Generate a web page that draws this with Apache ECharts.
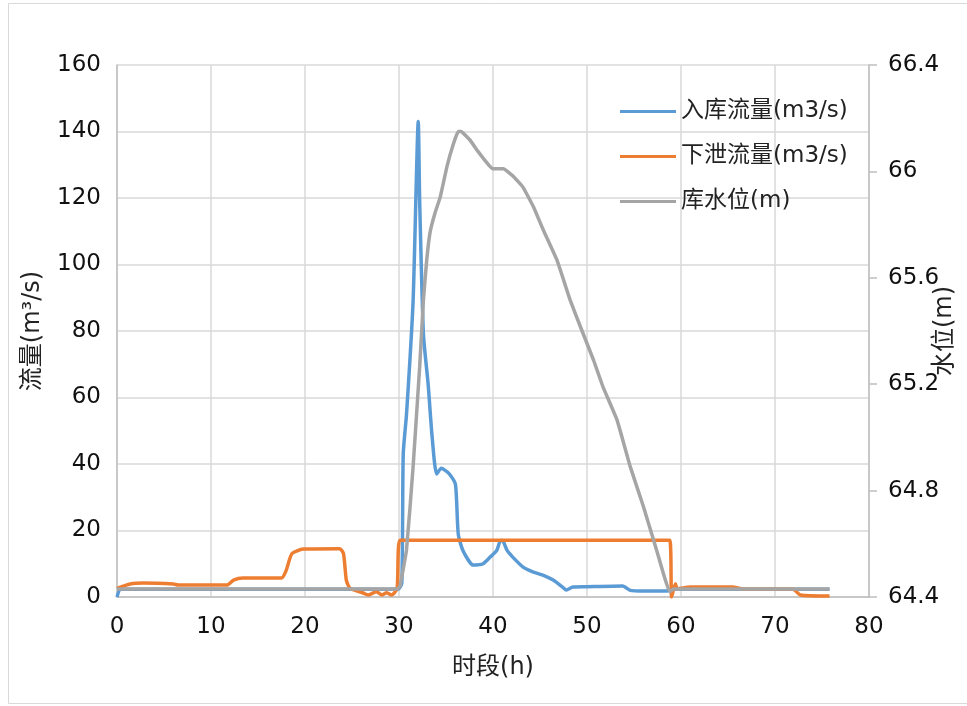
<!DOCTYPE html>
<html>
<head>
<meta charset="utf-8">
<script src="https://cdn.jsdelivr.net/npm/echarts@6/dist/echarts.min.js"></script>
<style>
  html, body { margin: 0; padding: 0; background: #fff; }
  #chart { width: 967px; height: 706px; }
</style>
</head>
<body>
<div id="chart"></div>
<script>
// series names
var seriesNames = ['入库流量(m3/s)', '下泄流量(m3/s)', '库水位(m)']

// 入库流量 [时段h, m3/s]
var inflow = [
  [0, 0], [0.4, 2.3], [5, 2.3], [10, 2.3], [15, 2.3], [20, 2.3], [25, 2.3], [29.9, 2.3],
  [30.3, 4.2], [30.45, 43], [30.8, 55], [31.5, 89], [32.05, 143], [32.2, 119],
  [32.6, 79], [33.1, 64], [33.5, 49], [34.0, 37], [34.5, 38.7], [35.3, 37.2],
  [36.0, 34], [36.3, 19], [36.8, 14], [37.9, 9.6], [38.95, 10], [39.7, 12],
  [40.4, 14], [40.8, 17], [41.0, 17], [41.5, 14], [42.1, 12], [43.2, 9],
  [44.3, 7.5], [45.3, 6.6], [46.4, 5.1], [47.4, 3], [47.8, 2.1], [48.5, 3],
  [50, 3.1], [53.8, 3.3], [54.6, 2], [56, 1.8], [58.5, 1.8], [59.2, 2.3],
  [65, 2.3], [70, 2.3], [75.8, 2.3]
]

// 下泄流量 [时段h, m3/s]
var outflow = [
  [0, 2.6], [1.4, 3.9], [2.8, 4.2], [6, 3.9], [6.5, 3.6], [11.7, 3.6],
  [12.4, 5.1], [13.4, 5.7], [17.5, 5.7], [18.0, 8], [18.6, 13], [19.8, 14.4],
  [23.7, 14.5], [24.1, 13], [24.4, 5], [24.8, 2.6], [26.2, 1.2], [26.7, 0.6],
  [27.6, 1.6], [28.2, 0.6], [28.7, 1.3], [29.2, 0.6], [29.8, 2.6], [30.1, 17.1],
  [40, 17.1], [50, 17.1], [58.8, 17.1], [59.0, 0], [59.4, 4], [59.6, 2.5],
  [61, 3], [65.5, 3], [66.6, 2.4], [71.9, 2.4], [72.7, 0.6], [75.8, 0.3]
]

// 库水位 [时段h, m]
var level = [
  [0, 64.43], [10, 64.43], [20, 64.43], [29.8, 64.43], [30.1, 64.44],
  [30.8, 64.577], [31.5, 64.89], [32.2, 65.266], [32.6, 65.517], [32.95, 65.667],
  [33.3, 65.77], [33.8, 65.84], [34.4, 65.905], [35.1, 66.018], [35.8, 66.105],
  [36.3, 66.15], [36.6, 66.15], [37.55, 66.118], [38.3, 66.08], [38.95, 66.05],
  [39.7, 66.018], [40.0, 66.01], [41.1, 66.01], [42.2, 65.98], [43.2, 65.94],
  [44.3, 65.867], [45.35, 65.78], [46.8, 65.667], [48.2, 65.517],
  [49.3, 65.416], [50.7, 65.29], [51.7, 65.19], [53.2, 65.065], [54.6, 64.89],
  [56.0, 64.74], [57.4, 64.577], [58.8, 64.42], [59.2, 64.43], [65, 64.43],
  [70, 64.43], [75.8, 64.43]
]

var colors = ['#5B9BD5', '#ED7D31', '#A5A5A5']
var font = 'DejaVu Sans, "Noto Sans CJK SC", sans-serif'

var chart = echarts.init(document.getElementById('chart'))
chart.setOption({
  animation: false,
  backgroundColor: '#fff',
  color: colors,
  textStyle: { fontFamily: font },
  graphic: [{
    type: 'rect',
    shape: { x: 8.5, y: 3.5, width: 975, height: 700 },
    style: { fill: 'none', stroke: '#d9d9d9', lineWidth: 1 },
    silent: true
  }],
  grid: { left: 117, right: 98, top: 65, bottom: 109, outerBoundsMode: 'none' },
  legend: {
    data: seriesNames,
    orient: 'vertical',
    left: 615,
    top: 95,
    itemWidth: 56,
    itemHeight: 3,
    itemGap: 22,
    icon: 'rect',
    textStyle: { fontSize: 23, color: '#222', fontFamily: font }
  },
  xAxis: {
    type: 'value',
    min: 0,
    max: 80,
    interval: 10,
    name: '时段(h)',
    nameLocation: 'middle',
    nameGap: 59,
    nameMoveOverlap: false,
    nameTextStyle: { fontSize: 24, color: '#222' },
    axisLine: { show: true, lineStyle: { color: '#bfbfbf', width: 1.5 } },
    axisTick: { show: false },
    axisLabel: { fontSize: 23, color: '#111', margin: 19 },
    splitLine: { show: true, lineStyle: { color: '#d9d9d9', width: 1.5 } }
  },
  yAxis: [{
    type: 'value',
    min: 0,
    max: 160,
    interval: 20,
    name: '流量(m³/s)',
    nameLocation: 'middle',
    nameGap: 72,
    nameMoveOverlap: false,
    nameTextStyle: { fontSize: 24, color: '#222' },
    axisLine: { show: true, lineStyle: { color: '#bfbfbf', width: 1.5 } },
    axisTick: { show: false },
    axisLabel: { fontSize: 23, color: '#111', margin: 16 },
    splitLine: { show: true, lineStyle: { color: '#d9d9d9', width: 1.5 } }
  }, {
    type: 'value',
    min: 64.4,
    max: 66.4,
    interval: 0.4,
    name: '水位(m)',
    nameLocation: 'middle',
    nameGap: 64,
    nameMoveOverlap: false,
    nameTextStyle: { fontSize: 24, color: '#222' },
    axisLine: { show: true, lineStyle: { color: '#bfbfbf', width: 1.5 } },
    axisTick: { show: true, length: 8, lineStyle: { color: '#bfbfbf', width: 1.5 } },
    axisLabel: { fontSize: 23, color: '#111', margin: 19 },
    splitLine: { show: false }
  }],
  series: [{
    name: seriesNames[0],
    type: 'line',
    yAxisIndex: 0,
    data: inflow,
    showSymbol: false,
    smooth: 0.2,
    lineStyle: { width: 3.5, color: colors[0] },
    z: 3
  }, {
    name: seriesNames[1],
    type: 'line',
    yAxisIndex: 0,
    data: outflow,
    showSymbol: false,
    smooth: 0.2,
    lineStyle: { width: 3.5, color: colors[1] },
    z: 4
  }, {
    name: seriesNames[2],
    type: 'line',
    yAxisIndex: 1,
    data: level,
    showSymbol: false,
    smooth: 0.1,
    lineStyle: { width: 3.5, color: colors[2] },
    z: 5
  }]
})
</script>
</body>
</html>
